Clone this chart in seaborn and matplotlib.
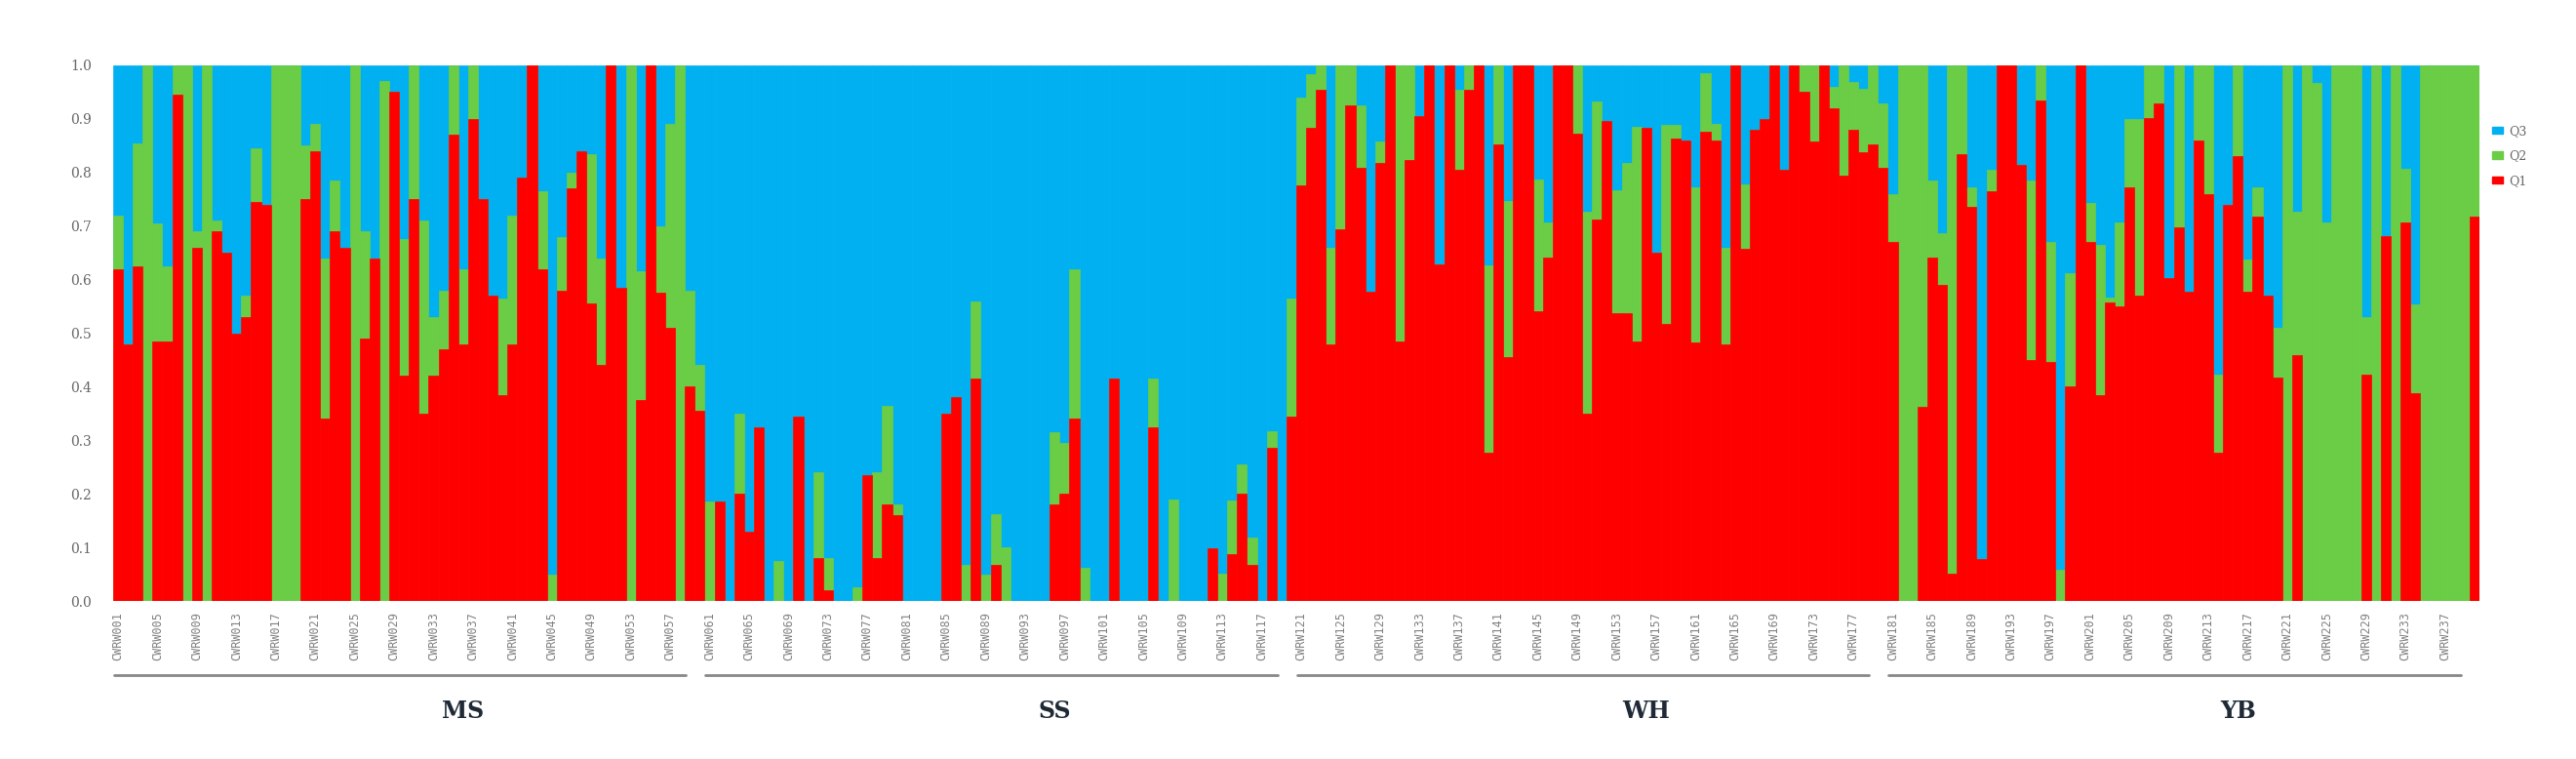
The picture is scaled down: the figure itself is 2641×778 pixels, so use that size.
import numpy as np
import pandas as pd
import seaborn as sns
import matplotlib.pyplot as plt
from matplotlib.patches import Patch

# populations, 60 individuals each
groups = ["MS", "SS", "WH", "YB"]
group_size = 60

# ancestry proportions (Q3 = 1 - Q1 - Q2)
q1_ms = [0.62, 0.48, 0.625, 0.0, 0.485, 0.485, 0.945, 0.0, 0.66, 0.0,
         0.69, 0.65, 0.50, 0.53, 0.745, 0.74, 0.0, 0.0, 0.0, 0.75,
         0.84, 0.34, 0.69, 0.66, 0.0, 0.49, 0.64, 0.0, 0.95, 0.42,
         0.75, 0.35, 0.42, 0.47, 0.87, 0.48, 0.90, 0.75, 0.57, 0.385,
         0.48, 0.79, 1.0, 0.62, 0.0, 0.58, 0.77, 0.84, 0.555, 0.44,
         1.0, 0.585, 0.0, 0.375, 1.0, 0.575, 0.51, 0.0, 0.40, 0.355]
q2_ms = [0.10, 0.0, 0.23, 1.0, 0.22, 0.14, 0.055, 1.0, 0.03, 1.0,
         0.02, 0.0, 0.0, 0.04, 0.10, 0.0, 1.0, 1.0, 1.0, 0.10,
         0.05, 0.30, 0.095, 0.0, 1.0, 0.20, 0.0, 0.97, 0.0, 0.255,
         0.25, 0.36, 0.11, 0.11, 0.13, 0.14, 0.10, 0.0, 0.0, 0.18,
         0.24, 0.0, 0.0, 0.145, 0.05, 0.10, 0.03, 0.0, 0.28, 0.20,
         0.0, 0.0, 1.0, 0.24, 0.0, 0.125, 0.38, 1.0, 0.18, 0.085]

q1_ss = [0.0, 0.186, 0.0, 0.20, 0.13, 0.325, 0.0, 0.0, 0.0, 0.345,
         0.0, 0.08, 0.02, 0.0, 0.0, 0.0, 0.235, 0.08, 0.18, 0.16,
         0.0, 0.0, 0.0, 0.0, 0.35, 0.38, 0.0, 0.415, 0.0, 0.068,
         0.0, 0.0, 0.0, 0.0, 0.0, 0.18, 0.20, 0.34, 0.0, 0.0,
         0.0, 0.415, 0.0, 0.0, 0.0, 0.325, 0.0, 0.0, 0.0, 0.0,
         0.0, 0.098, 0.0, 0.088, 0.20, 0.068, 0.0, 0.287, 0.0, 0.345]
q2_ss = [0.186, 0.0, 0.0, 0.15, 0.0, 0.0, 0.0, 0.075, 0.0, 0.0,
         0.0, 0.16, 0.06, 0.0, 0.0, 0.026, 0.0, 0.16, 0.185, 0.02,
         0.0, 0.0, 0.0, 0.0, 0.0, 0.0, 0.068, 0.145, 0.05, 0.095,
         0.10, 0.0, 0.0, 0.0, 0.0, 0.135, 0.095, 0.28, 0.062, 0.0,
         0.0, 0.0, 0.0, 0.0, 0.0, 0.09, 0.0, 0.19, 0.0, 0.0,
         0.0, 0.0, 0.052, 0.10, 0.055, 0.05, 0.0, 0.03, 0.0, 0.22]

q1_wh = [0.775, 0.883, 0.954, 0.479, 0.694, 0.925, 0.808, 0.577, 0.818, 1.0,
         0.485, 0.824, 0.905, 1.0, 0.629, 1.0, 0.805, 0.954, 1.0, 0.277,
         0.853, 0.456, 1.0, 1.0, 0.541, 0.642, 1.0, 1.0, 0.873, 0.349,
         0.713, 0.896, 0.537, 0.537, 0.485, 0.883, 0.651, 0.518, 0.863, 0.86,
         0.482, 0.876, 0.86, 0.479, 1.0, 0.658, 0.879, 0.899, 1.0, 0.805,
         1.0, 0.951, 0.857, 1.0, 0.919, 0.795, 0.879, 0.837, 0.853, 0.808]
q2_wh = [0.165, 0.10, 0.046, 0.18, 0.306, 0.075, 0.117, 0.0, 0.04, 0.0,
         0.515, 0.176, 0.0, 0.0, 0.0, 0.0, 0.15, 0.046, 0.0, 0.35,
         0.147, 0.29, 0.0, 0.0, 0.245, 0.065, 0.0, 0.0, 0.127, 0.377,
         0.22, 0.0, 0.23, 0.28, 0.40, 0.0, 0.0, 0.37, 0.026, 0.0,
         0.29, 0.11, 0.03, 0.18, 0.0, 0.12, 0.0, 0.0, 0.0, 0.0,
         0.0, 0.049, 0.143, 0.0, 0.04, 0.205, 0.09, 0.12, 0.147, 0.12]

q1_yb = [0.671, 0.0, 0.0, 0.362, 0.642, 0.59, 0.052, 0.834, 0.736, 0.078,
         0.765, 1.0, 1.0, 0.814, 0.45, 0.935, 0.446, 0.0, 0.40, 1.0,
         0.671, 0.384, 0.557, 0.55, 0.772, 0.57, 0.902, 0.928, 0.603, 0.697,
         0.577, 0.86, 0.759, 0.277, 0.739, 0.831, 0.577, 0.717, 0.57, 0.417,
         0.0, 0.459, 0.0, 0.0, 0.0, 0.0, 0.0, 0.0, 0.423, 0.0,
         0.681, 0.0, 0.707, 0.388, 0.0, 0.0, 0.0, 0.0, 0.0, 0.717]
q2_yb = [0.088, 1.0, 1.0, 0.638, 0.143, 0.097, 0.948, 0.166, 0.036, 0.0,
         0.04, 0.0, 0.0, 0.0, 0.335, 0.065, 0.225, 0.059, 0.212, 0.0,
         0.072, 0.28, 0.01, 0.157, 0.128, 0.33, 0.098, 0.072, 0.0, 0.303,
         0.0, 0.14, 0.241, 0.146, 0.0, 0.169, 0.061, 0.055, 0.0, 0.094,
         1.0, 0.267, 1.0, 0.967, 0.707, 1.0, 1.0, 1.0, 0.108, 1.0,
         0.0, 1.0, 0.10, 0.166, 1.0, 1.0, 1.0, 1.0, 1.0, 0.283]

q1 = np.array(q1_ms + q1_ss + q1_wh + q1_yb)
q2 = np.array(q2_ms + q2_ss + q2_wh + q2_yb)
q3 = 1 - q1 - q2
samples = ["CWRW%03d" % (i + 1) for i in range(len(q1))]

df = pd.DataFrame({"sample": samples, "Q1": q1, "Q2": q2, "Q3": q3})
df["top_q2"] = df["Q1"] + df["Q2"]
df["top_q3"] = df["Q1"] + df["Q2"] + df["Q3"]

c_q1, c_q2, c_q3 = "#ff0000", "#6acd45", "#00b0f0"

sns.set_style("white")
plt.rcParams["font.family"] = ["DejaVu Serif", "DejaVu Sans"]

fig = plt.figure(figsize=(26.41, 7.78), dpi=100)
ax = fig.add_axes([0.0439, 0.208, 0.9186, 0.706])

# stacked bars: draw cumulative heights from the top layer down
for col, c in [("top_q3", c_q3), ("top_q2", c_q2), ("Q1", c_q1)]:
    sns.barplot(data=df, x="sample", y=col, color=c, width=1.0, saturation=1,
                errorbar=None, linewidth=0.5, edgecolor=c, ax=ax)

ax.set_xlim(-0.5, len(samples) - 0.5)
ax.set_ylim(0, 1)
ax.set_xlabel("")
ax.set_ylabel("")
sns.despine(ax=ax, left=True, bottom=True)

ax.set_yticks(np.arange(0, 1.01, 0.1))
ax.set_yticklabels(["%.1f" % v for v in np.arange(0, 1.01, 0.1)],
                   fontsize=10, color="#666666")
tick_pos = list(range(0, len(samples), 4))
ax.set_xticks(tick_pos)
ax.set_xticklabels([samples[i] for i in tick_pos], rotation=90, fontsize=8.5,
                   color="#808080", family="DejaVu Sans Mono")
ax.tick_params(axis="y", length=0, pad=16)
ax.tick_params(axis="x", length=0, pad=8)

# population brackets
trans = ax.get_xaxis_transform()
for k, g in enumerate(groups):
    start = k * group_size
    ax.plot([start - 0.4, start + 57.6], [-0.138, -0.138], color="#888888",
            lw=2, transform=trans, clip_on=False)
    ax.text(start + 35, -0.205, g, transform=trans, ha="center", va="center",
            fontsize=17, fontweight="bold", color="#1f2a36")

handles = [Patch(color=c_q3, label="Q3"), Patch(color=c_q2, label="Q2"),
           Patch(color=c_q1, label="Q1")]
fig.legend(handles=handles, loc="upper left", bbox_to_anchor=(0.963, 0.85),
           frameon=False, fontsize=9, handlelength=0.9, handleheight=0.5,
           handletextpad=0.5, labelspacing=1.0, labelcolor="#666666")

fig.savefig("out.png", dpi=100)
